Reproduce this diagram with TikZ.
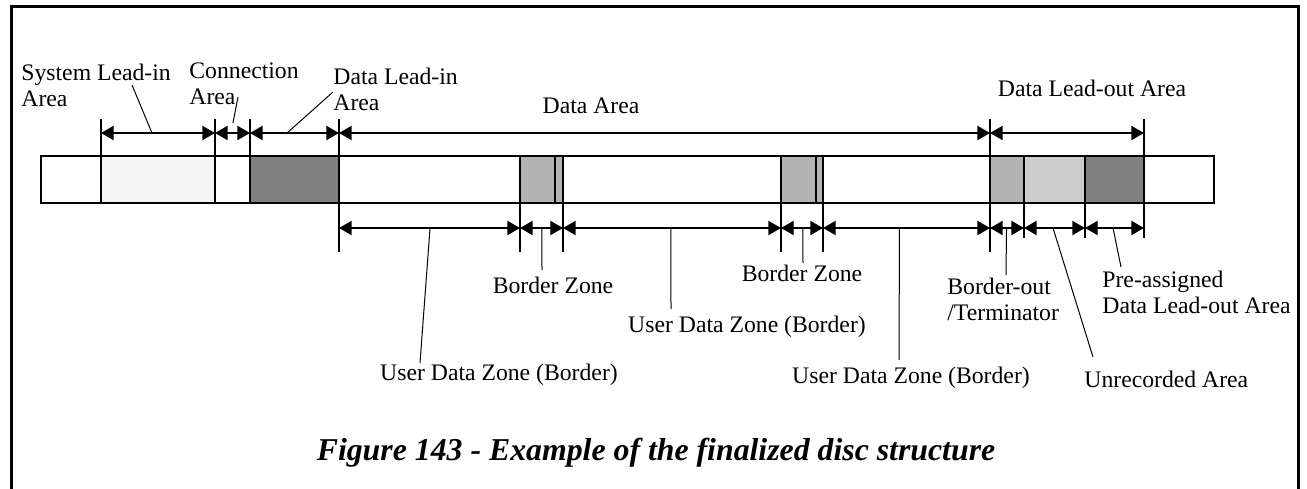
\documentclass[tikz,border=0pt]{standalone}
\usepackage{fontspec}
\setmainfont{Liberation Serif}
\usepackage{tikz}
\usetikzlibrary{arrows.meta,positioning}
\definecolor{sysgray}{HTML}{F5F5F5}
\definecolor{leadgray}{HTML}{808080}
\definecolor{zonegray}{HTML}{B3B3B3}
\definecolor{dotgray}{HTML}{CDCDCD}

\begin{document}
\begin{tikzpicture}[
  x=0.5pt, y=-0.5pt,
  areatext/.style={
    inner sep=0pt,
    align=left,
    font=\fontsize{11.85pt}{12.8pt}\selectfont
  },
  captext/.style={
    inner sep=0pt,
    font=\fontsize{15.9pt}{18pt}\selectfont\bfseries\itshape
  },
  dimline/.style={{Triangle[length=6.3pt,width=7pt]}-{Triangle[length=6.3pt,width=7pt]}, line width=1pt},
  tickline/.style={line width=1pt},
  leader/.style={line width=0.5pt},
  discline/.style={line width=1pt},
  frameline/.style={line width=1.5pt}
]

\useasboundingbox (0,0) rectangle (1307,488);
\draw[frameline] (11.5,495) -- (11.5,6) -- (1298.5,6) -- (1298.5,495);

\fill[sysgray] (101,156) rectangle (215,203);
\fill[leadgray] (250,156) rectangle (339,203);
\fill[zonegray] (520,156) rectangle (563,203);
\fill[zonegray] (781,156) rectangle (823,203);
\fill[zonegray] (990,156) rectangle (1024,203);
\fill[dotgray] (1024,156) rectangle (1085,203);
\fill[leadgray] (1085,156) rectangle (1144,203);
\draw[discline] (41,156) rectangle (1214,203);

\foreach \x/\ya/\yb in {101/119/203, 215/119/203, 250/119/203, 339/119/252,
  520/156/252, 555/156/203, 563/156/252, 781/156/252, 816/156/203,
  823/156/252, 990/119/252, 1024/156/238, 1085/156/238, 1144/119/238}
  \draw[tickline] (\x,\ya) -- (\x,\yb);

\foreach \n/\x in {0/101, 1/215, 2/250, 3/339, 4/990, 5/1144}
  \coordinate (u\n) at (\x,133);
\foreach \n/\x in {0/339, 1/520, 2/563, 3/781, 4/823, 5/990, 6/1024, 7/1085, 8/1144}
  \coordinate (l\n) at (\x,228);

\draw[dimline] (u0) -- coordinate[pos=0.447] (sysp) (u1);
\draw[dimline] (u1) -- coordinate[pos=0.457] (connp) (u2);
\draw[dimline] (u2) -- coordinate[pos=0.416] (dlip) (u3);
\draw[dimline] (u3) -- (u4);
\draw[dimline] (u4) -- (u5);

\draw[dimline] (l0) -- coordinate[pos=0.503] (udzap) (l1);
\draw[dimline] (l1) -- coordinate[pos=0.51] (bzap) (l2);
\draw[dimline] (l2) -- coordinate[pos=0.495] (udzbp) (l3);
\draw[dimline] (l3) -- coordinate[pos=0.52] (bzbp) (l4);
\draw[dimline] (l4) -- coordinate[pos=0.458] (udzcp) (l5);
\draw[dimline] (l5) -- coordinate[pos=0.486] (bop) (l6);
\draw[dimline] (l6) -- coordinate[pos=0.475] (unrp) (l7);
\draw[dimline] (l7) -- coordinate[pos=0.475] (prep) (l8);

\node[areatext, anchor=base west] (sysl) at (21,106) {System Lead-in\\Area};
\node[areatext, anchor=base west] (connl) at (189,104) {Connection\\Area};
\node[areatext, anchor=base west] (dlil) at (333,110) {Data Lead-in\\Area};
\node[areatext, anchor=base] (datal) at (591,113) {Data Area};
\node[areatext, anchor=base] (dlol) at (1092,96) {Data Lead-out Area};
\node[areatext, anchor=base] (bzal) at (553,293) {Border Zone};
\node[areatext, anchor=base] (bzbl) at (802,281) {Border Zone};
\node[areatext, anchor=base] (udzal) at (499,380) {User Data Zone (Border)};
\node[areatext, anchor=base] (udzbl) at (747,332) {User Data Zone (Border)};
\node[areatext, anchor=base] (udzcl) at (911,383) {User Data Zone (Border)};
\node[areatext, anchor=base west] (bol) at (947,320) {Border-out\\/Terminator};
\node[areatext, anchor=base west] (unrl) at (1084,387) {Unrecorded Area};
\node[areatext, anchor=base west] (prel) at (1102,313) {Pre-assigned\\Data Lead-out Area};

\coordinate (sysq) at (132,85);
\coordinate (connq) at (238,97);
\coordinate (dliq) at (333,92);
\coordinate (bzaq) at (542,270);
\coordinate (udzaq) at (420,363);
\coordinate (udzbq) at (671,309);
\coordinate (bzbq) at (803,263);
\coordinate (udzcq) at (899,360);
\coordinate (boq) at (1006,275);
\coordinate (unrq) at (1093,357);
\coordinate (preq) at (1121,267);

\draw[leader] (sysq) -- (sysp);
\draw[leader, shorten >=5pt] (connq) -- (connp);
\draw[leader] (dliq) -- (dlip);
\draw[leader] (udzap) -- (udzaq);
\draw[leader] (bzap) -- (bzaq);
\draw[leader] (udzbp) -- (udzbq);
\draw[leader] (bzbp) -- (bzbq);
\draw[leader] (udzcp) -- (udzcq);
\draw[leader] (bop) -- (boq);
\draw[leader] (unrp) -- (unrq);
\draw[leader] (prep) -- (preq);

\node[captext, anchor=base] (caption) at (656,460) {Figure 143 - Example of the finalized disc structure};

\end{tikzpicture}
\end{document}
